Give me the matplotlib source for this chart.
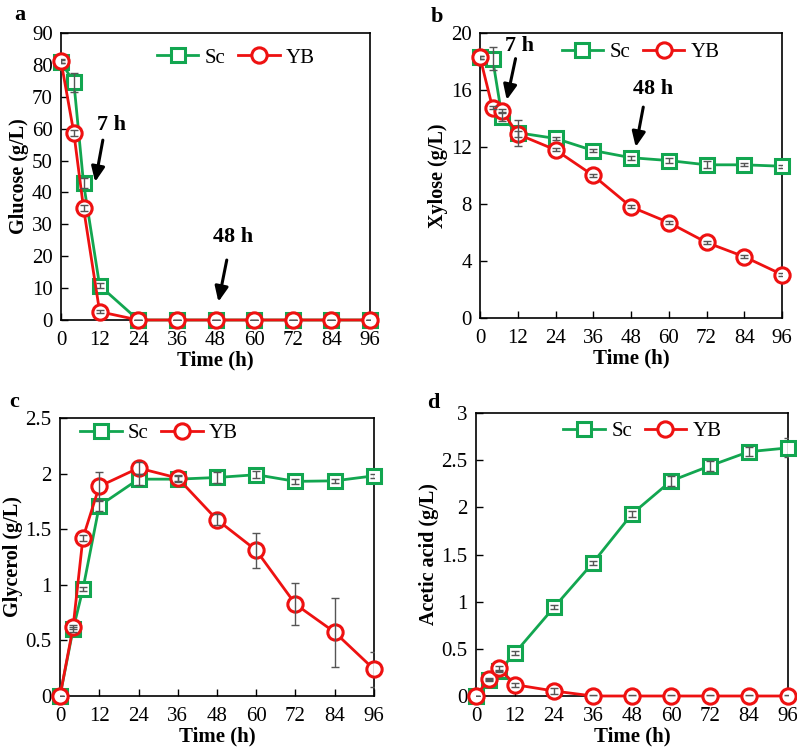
import matplotlib
matplotlib.use("Agg")
import matplotlib.pyplot as plt
import numpy as np

plt.rcParams['font.family'] = ['Liberation Serif', 'DejaVu Serif']

time = [0, 4, 7, 12, 24, 36, 48, 60, 72, 84, 96]
xticks = [0, 12, 24, 36, 48, 60, 72, 84, 96]

glucose_sc = [81.0, 74.5, 42.9, 10.8, 0, 0, 0, 0, 0, 0, 0]
glucose_sc_err = [0.5, 3.0, 1.5, 0.8, 0, 0, 0, 0, 0, 0, 0]
glucose_yb = [81.2, 58.6, 35.1, 2.6, 0, 0, 0, 0, 0, 0, 0]
glucose_yb_err = [0.5, 1.0, 1.0, 0.5, 0, 0, 0, 0, 0, 0, 0]

xylose_sc = [18.3, 18.2, 14.1, 13.0, 12.6, 11.75, 11.25, 11.05, 10.75, 10.75, 10.65]
xylose_sc_err = [0.1, 0.8, 0.3, 0.9, 0.1, 0.1, 0.15, 0.2, 0.25, 0.1, 0.1]
xylose_yb = [18.3, 14.75, 14.55, 12.9, 11.8, 10.0, 7.8, 6.7, 5.3, 4.3, 3.05]
xylose_yb_err = [0.1, 0.1, 0.1, 0.2, 0.1, 0.1, 0.1, 0.1, 0.1, 0.1, 0.1]

glycerol_sc = [0, 0.6, 0.96, 1.71, 1.95, 1.95, 1.965, 1.99, 1.93, 1.935, 1.98]
glycerol_sc_err = [0, 0.02, 0.02, 0.05, 0.05, 0.03, 0.05, 0.03, 0.02, 0.02, 0.02]
glycerol_yb = [0, 0.62, 1.42, 1.885, 2.05, 1.96, 1.585, 1.31, 0.825, 0.573, 0.24]
glycerol_yb_err = [0, 0.02, 0.03, 0.13, 0.05, 0.03, 0.05, 0.155, 0.19, 0.31, 0.16]

acetic_sc = [0, 0.165, 0.26, 0.457, 0.94, 1.413, 1.93, 2.28, 2.44, 2.59, 2.63]
acetic_sc_err = [0, 0.01, 0.01, 0.02, 0.02, 0.02, 0.03, 0.05, 0.05, 0.05, 0.1]
acetic_yb = [0, 0.184, 0.30, 0.12, 0.053, 0, 0, 0, 0, 0, 0]
acetic_yb_err = [0, 0.01, 0.02, 0.02, 0.03, 0.01, 0.01, 0.01, 0.01, 0.01, 0.01]

GREEN = '#12A650'
RED = '#EE1111'
ERR = '#555555'

fig = plt.figure(figsize=(7.97, 7.5), dpi=100)
W, H = 797, 750

def add_ax(l, r, t, b):
    return fig.add_axes([l / W, 1 - b / H, (r - l) / W, (b - t) / H])

axa = add_ax(61, 370, 33, 320)
axb = add_ax(480, 782, 33, 318)
axc = add_ax(60, 374, 418, 696)
axd = add_ax(476, 788, 413, 696)

panels = [
    (axa, glucose_sc, glucose_sc_err, glucose_yb, glucose_yb_err, 'Glucose (g/L)', (0, 90), np.arange(0, 91, 10), (0.31, 0.913), 'a', (20, 15)),
    (axb, xylose_sc, xylose_sc_err, xylose_yb, xylose_yb_err, 'Xylose (g/L)', (0, 20), np.arange(0, 21, 4), (0.27, 0.933), 'b', (437, 17)),
    (axc, glycerol_sc, glycerol_sc_err, glycerol_yb, glycerol_yb_err, 'Glycerol (g/L)', (0, 2.5), np.arange(0, 2.51, 0.5), (0.064, 0.946), 'c', (14, 402)),
    (axd, acetic_sc, acetic_sc_err, acetic_yb, acetic_yb_err, 'Acetic acid (g/L)', (0, 3), np.arange(0, 3.01, 0.5), (0.28, 0.934), 'd', (433, 403)),
]

def fmt(v):
    if abs(v - round(v)) < 1e-9:
        return str(int(round(v)))
    return ('%g' % v)

for ax, sc, sce, yb, ybe, ylab, ylim, yt, legpos, letter, lpos in panels:
    ax.errorbar(time, sc, yerr=sce, fmt='none', ecolor=ERR, elinewidth=1.0, capsize=3, zorder=5)
    ax.errorbar(time, yb, yerr=ybe, fmt='none', ecolor=ERR, elinewidth=1.0, capsize=3, zorder=5)
    ax.plot(time, sc, color=GREEN, lw=2, marker='s', ms=10, mfc='white', mec=GREEN, mew=2.2,
            label='Sc', zorder=3, clip_on=False)
    ax.plot(time, yb, color=RED, lw=2, marker='o', ms=11, mfc='white', mec=RED, mew=2.2,
            label='YB', zorder=4, clip_on=False)
    ax.set_xlim(0, 96)
    ax.set_ylim(*ylim)
    ax.set_xticks(xticks)
    ax.set_yticks(yt)
    ax.set_yticklabels([fmt(v) for v in yt])
    ax.tick_params(axis='both', direction='in', length=5, width=1, labelsize=15, pad=6)
    ax.tick_params(axis='x', pad=8)
    for s in ax.spines.values():
        s.set_linewidth(1.2)
    ax.set_xlabel('Time (h)', fontsize=15, fontweight='bold', labelpad=0)
    ax.set_ylabel(ylab, fontsize=14.5, fontweight='bold', labelpad=2)
    ax.legend(loc='center left', bbox_to_anchor=legpos, ncol=2, frameon=False, fontsize=15,
              handlelength=2.0, columnspacing=0.6, handletextpad=0.3, borderaxespad=0,
              borderpad=0)
    fig.text(lpos[0] / W, 1 - lpos[1] / H, letter, fontsize=16, fontweight='bold',
             ha='center', va='center')

arrowprops = dict(arrowstyle='-|>,head_length=0.9,head_width=0.4', color='black', lw=2.2,
                  shrinkA=0, shrinkB=0)
# panel a
axa.annotate('', xy=(10.6, 43.3), xytext=(13.0, 56.4), arrowprops=arrowprops)
axa.text(15.7, 61.1, '7 h', fontsize=16, fontweight='bold', ha='center', va='center')
axa.annotate('', xy=(48.9, 5.7), xytext=(51.5, 18.8), arrowprops=arrowprops)
axa.text(53.4, 26.0, '48 h', fontsize=16, fontweight='bold', ha='center', va='center')
# panel b
axb.annotate('', xy=(8.5, 15.3), xytext=(11.3, 18.2), arrowprops=arrowprops)
axb.text(12.7, 19.1, '7 h', fontsize=16, fontweight='bold', ha='center', va='center')
axb.annotate('', xy=(49.5, 12.0), xytext=(51.9, 14.8), arrowprops=arrowprops)
axb.text(55.1, 16.1, '48 h', fontsize=16, fontweight='bold', ha='center', va='center')

fig.savefig('out.png', dpi=100)
